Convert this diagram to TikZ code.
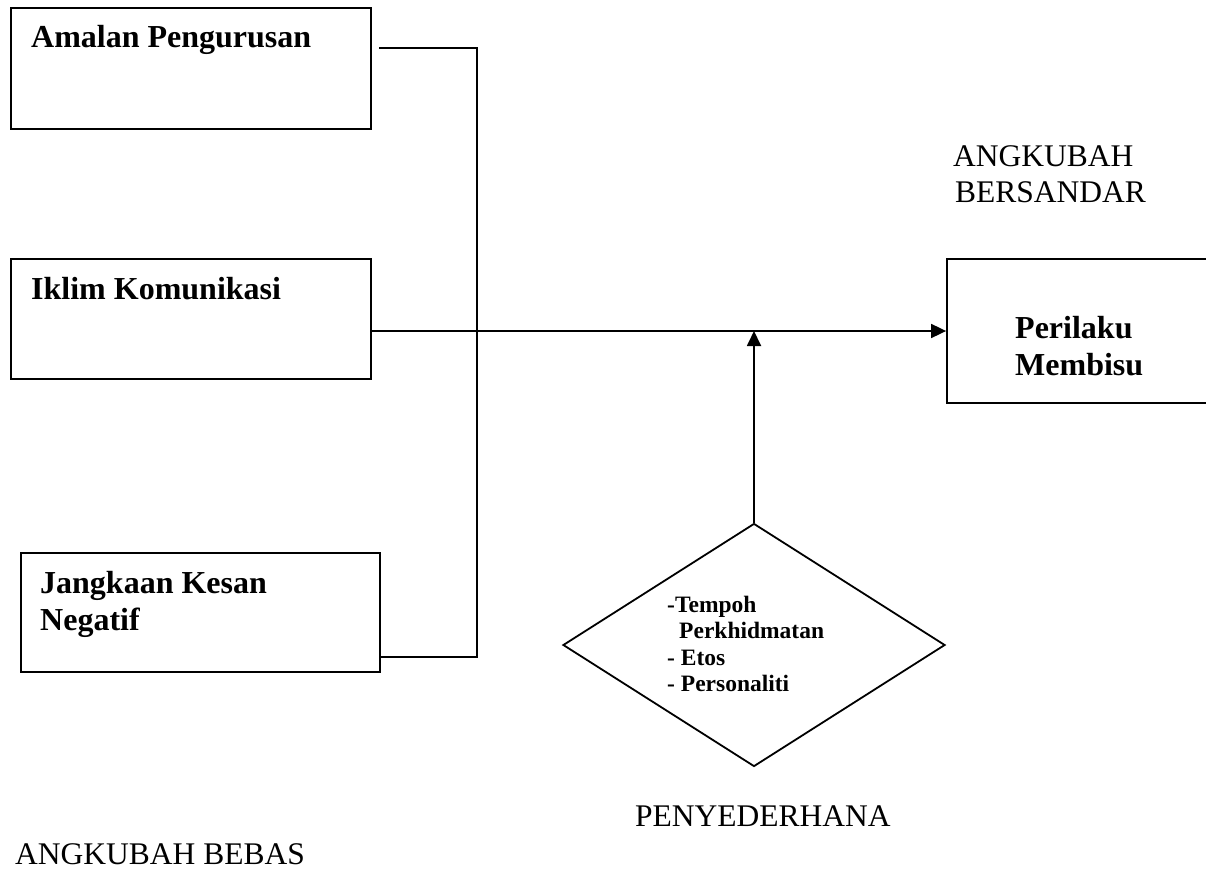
\documentclass[tikz,border=0pt]{standalone}
\usepackage{fontspec}
\setmainfont{Liberation Serif}
\usetikzlibrary{shapes.geometric,arrows.meta}
\begin{document}
\begin{tikzpicture}[x=1pt,y=-1pt,
  box/.style={draw, line width=1.8pt, rectangle, inner sep=0pt},
  lbl/.style={anchor=base west, inner sep=0pt, font=\fontsize{32}{37}\selectfont\bfseries},
  small/.style={anchor=base west, inner sep=0pt, font=\fontsize{23.5}{26.5}\selectfont\bfseries},
  captxt/.style={anchor=base west, inner sep=0pt, font=\fontsize{31.5}{35}\selectfont},
  wire/.style={line width=1.8pt},
  arr/.style={wire, -{Triangle[length=15pt,width=14pt]}}]
\useasboundingbox (0,0) rectangle (1206,869);
% boxes
\node[box, minimum width=360pt, minimum height=121pt] (b1) at (191,68.5) {};
\node[box, minimum width=360pt, minimum height=120pt] (b2) at (191,319) {};
\node[box, minimum width=359pt, minimum height=119pt] (b3) at (200.5,612.5) {};
\node[box, minimum width=268pt, minimum height=144pt] (out) at (1081,331) {};
\node[draw, diamond, line width=1.8pt, minimum width=382pt, minimum height=243pt, aspect=1.572, inner sep=0pt] (mod) at (754,645) {};
% texts
\node[lbl] (t1) at (31,48) {Amalan Pengurusan};
\node[lbl] (t2) at (31,299) {Iklim Komunikasi};
\node[lbl] (t3a) at (40,593) {Jangkaan Kesan};
\node[lbl] (t3b) at (40,630) {Negatif};
\node[lbl] (p1) at (1015,338) {Perilaku};
\node[lbl] (p2) at (1015,375) {Membisu};
\node[small] (m1) at (667,612) {-Tempoh};
\node[small] (m2) at (679,638.5) {Perkhidmatan};
\node[small] (m3) at (667,665) {- Etos};
\node[small] (m4) at (667,691.5) {- Personaliti};
\node[captxt] (d1) at (953,167) {ANGKUBAH};
\node[captxt] (d2) at (955,202) {BERSANDAR};
\node[captxt] (c1) at (635,826) {PENYEDERHANA};
\node[captxt] (c2) at (15,864) {ANGKUBAH BEBAS};
% connectors
\coordinate (s1) at (379,48);
\coordinate (j1) at (477,48);
\coordinate (j3) at (477,657);
\draw[wire] (s1) -- (j1) -- (j3) -- (b3.east |- j3);
\draw[arr] (b2.east |- out.west) -- (out.west);
\draw[arr] (mod.north) -- (mod.north |- out.west);
\end{tikzpicture}
\end{document}
